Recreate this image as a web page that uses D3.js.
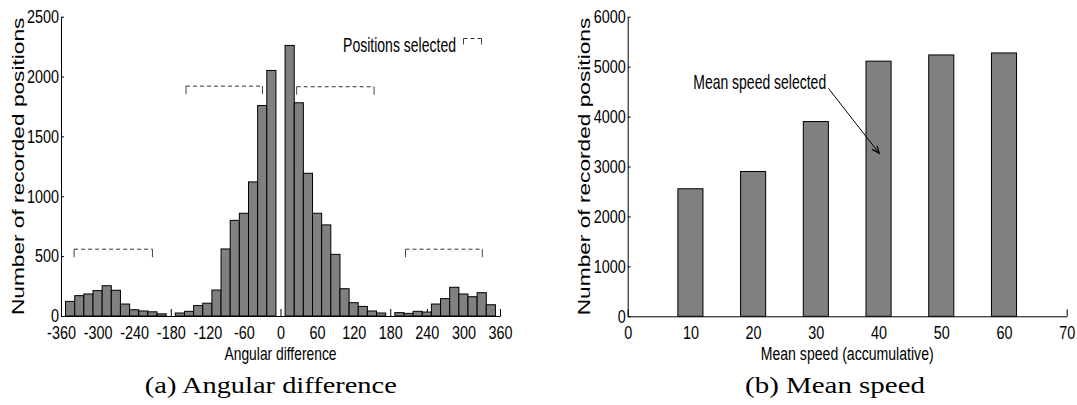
<!DOCTYPE html>
<html><head><meta charset="utf-8">
<script src="https://cdn.jsdelivr.net/npm/d3@7"></script>
<style>
html,body{margin:0;padding:0;background:#fff;}
svg{display:block;}
</style></head><body>
<svg id="chart" width="1077" height="405"></svg>
<script>
// ---------- data ----------
const angleBins = [-345,-330,-315,-300,-285,-270,-255,-240,-225,-210,-195,-180,-165,-150,-135,-120,-105,-90,-75,-60,-45,-30,-15,
  0,
  15,30,45,60,75,90,105,120,135,150,165,180,195,210,225,240,255,270,285,300,315,330,345];
const angleCounts = [122,170,184,212,253,215,100,52,42,35,18,0,25,39,87,107,217,560,799,858,1120,1758,2051,
  0,
  2260,1781,1192,858,761,515,228,111,80,42,25,0,28,22,39,33,100,145,240,184,161,195,94];
const angleTicks = [-360,-300,-240,-180,-120,-60,0,60,120,180,240,300,360];
const angleCountTicks = [0,500,1000,1500,2000,2500];
const selectedFrom = [-338.5,-155,26.5,205];
const selectedTo = [-210,-29.5,153.5,331];
const selectedLevel = [558,1920,1915,558];

const speedBins = [10,20,30,40,50,60];
const speedCounts = [2554,2900,3900,5110,5234,5274];
const speedTicks = [0,10,20,30,40,50,60,70];
const speedCountTicks = [0,1000,2000,3000,4000,5000,6000];
const arrowFrom = [32.0,4566];
const arrowTo = [40.1,3265];
const noteAt = [10.45,4699];

// ---------- font selection ----------
function pickFont(cands, generic) {
  const c = document.createElement('canvas').getContext('2d');
  const probe = 'mmmmmwwwwwiiiiilllAQgy0123456789';
  for (const f of cands) {
    for (const base of ['monospace', 'serif', 'sans-serif']) {
      c.font = `40px ${base}`; const w0 = c.measureText(probe).width;
      c.font = `40px "${f}", ${base}`; const w1 = c.measureText(probe).width;
      if (Math.abs(w1 - w0) > 0.5) return `"${f}", ${generic}`;
    }
  }
  return generic;
}
const SANS = pickFont(['Liberation Sans', 'Arimo', 'Arial', 'Helvetica', 'Nimbus Sans', 'Roboto', 'Noto Sans'], 'sans-serif');
const SERIF = pickFont(['Liberation Serif', 'Tinos', 'Times New Roman', 'Nimbus Roman', 'Noto Serif', 'DejaVu Serif'], 'serif');

// ---------- setup ----------
const svg = d3.select('#chart');
const BAR_FILL = '#808080';
const fmt = d => String(d);   // plain hyphen minus, as in the reference

function label(parent, str, x, y, size, family, anchor, width) {
  const t = parent.append('text').text(str)
    .attr('font-size', size).attr('font-family', family)
    .attr('text-anchor', anchor).attr('fill', '#000');
  const w0 = t.node().getComputedTextLength();
  const s = width ? width / w0 : 1;
  t.attr('transform', `translate(${x},${y}) scale(${s},1)`);
  return t;
}

function styleAxis(g) {
  g.attr('font-family', SANS).attr('font-size', 18);
  g.select('.domain').attr('stroke', '#000').attr('stroke-width', 1);
  g.selectAll('.tick line').attr('stroke', '#000').attr('stroke-width', 1);
  g.selectAll('.tick text').attr('fill', '#000').each(function() {
    const t = d3.select(this);
    const x = +t.attr('x') || 0;
    t.attr('x', 0).attr('transform', `translate(${x},0) scale(0.8,1)`);
  });
}

// ---------- chart (a) ----------
const xA = d3.scaleLinear().domain([-360, 360]).range([61, 500]);
const yA = d3.scaleLinear().domain([0, 2500]).range([316, 16.7]);
const gA = svg.append('g');

gA.append('g').attr('transform', `translate(0,${yA(0)})`)
  .call(d3.axisBottom(xA).tickValues(angleTicks).tickFormat(fmt)
    .tickSizeInner(-7).tickSizeOuter(0).tickPadding(10))
  .call(styleAxis);
gA.append('g').attr('transform', `translate(${xA(-360)},0)`)
  .call(d3.axisLeft(yA).tickValues(angleCountTicks).tickFormat(fmt)
    .tickSizeInner(-3).tickSizeOuter(0).tickPadding(2))
  .call(styleAxis);

const binHalf = 7.5;
gA.append('g').selectAll('rect')
  .data(angleBins.map((c, i) => ({c, v: angleCounts[i]})).filter(d => d.v > 0))
  .join('rect')
  .attr('x', d => xA(d.c - binHalf))
  .attr('width', d => xA(d.c + binHalf) - xA(d.c - binHalf))
  .attr('y', d => yA(d.v))
  .attr('height', d => yA(0) - yA(d.v))
  .attr('fill', BAR_FILL).attr('stroke', '#000').attr('stroke-width', 1);

// selected-range brackets
function bracket(parent, x0, x1, y, tick) {
  parent.append('line').attr('x1', x0).attr('x2', x1).attr('y1', y).attr('y2', y)
    .attr('stroke', '#333').attr('stroke-width', 1).attr('stroke-dasharray', '4,3');
  [x0, x1].forEach(x => parent.append('line')
    .attr('x1', x).attr('x2', x).attr('y1', y).attr('y2', y + tick)
    .attr('stroke', '#444').attr('stroke-width', 1));
}
const gBr = gA.append('g');
selectedFrom.forEach((a, i) => bracket(gBr, xA(a), xA(selectedTo[i]), yA(selectedLevel[i]), 8));

// legend
label(gA, 'Positions selected', 456, 51.7, 21, SANS, 'end', 113);
bracket(gA, 463.5, 481.5, 38.5, 6);

// axis titles
label(gA, 'Angular difference', xA(0), 359.5, 18, SANS, 'middle', 112);
gA.append('text').text('Number of recorded positions')
  .attr('font-family', SANS).attr('font-size', 22.7).attr('text-anchor', 'middle')
  .attr('transform', `translate(23.8,${(yA(0) + yA(2500)) / 2}) scale(0.75,1) rotate(-90)`);
label(gA, '(a) Angular difference', 270.8, 393, 23, SERIF, 'middle', 252);

// ---------- chart (b) ----------
const xB = d3.scaleLinear().domain([0, 70]).range([627.7, 1066.7]);
const yB = d3.scaleLinear().domain([0, 6000]).range([316.3, 16.7]);
const gB = svg.append('g');

gB.append('g').attr('transform', `translate(0,${yB(0)})`)
  .call(d3.axisBottom(xB).tickValues(speedTicks).tickFormat(fmt)
    .tickSizeInner(-7).tickSizeOuter(0).tickPadding(10))
  .call(styleAxis);
gB.append('g').attr('transform', `translate(${xB(0)},0)`)
  .call(d3.axisLeft(yB).tickValues(speedCountTicks).tickFormat(fmt)
    .tickSizeInner(-3).tickSizeOuter(0).tickPadding(2))
  .call(styleAxis);

const barHalf = 2;
gB.append('g').selectAll('rect')
  .data(speedBins.map((c, i) => ({c, v: speedCounts[i]})))
  .join('rect')
  .attr('x', d => xB(d.c - barHalf))
  .attr('width', d => xB(d.c + barHalf) - xB(d.c - barHalf))
  .attr('y', d => yB(d.v))
  .attr('height', d => yB(0) - yB(d.v))
  .attr('fill', BAR_FILL).attr('stroke', '#000').attr('stroke-width', 1);

// annotation
label(gB, 'Mean speed selected', xB(noteAt[0]), yB(noteAt[1]) + 7.5, 20, SANS, 'start', 133);
const ax0 = xB(arrowFrom[0]), ay0 = yB(arrowFrom[1]);
const ax1 = xB(arrowTo[0]), ay1 = yB(arrowTo[1]);
gB.append('line').attr('x1', ax0).attr('y1', ay0).attr('x2', ax1).attr('y2', ay1)
  .attr('stroke', '#000').attr('stroke-width', 1);
const ang = Math.atan2(ay1 - ay0, ax1 - ax0);
const hl = 8, ha = 0.4;
gB.append('path')
  .attr('d', `M${ax1 - hl * Math.cos(ang - ha)},${ay1 - hl * Math.sin(ang - ha)}L${ax1},${ay1}L${ax1 - hl * Math.cos(ang + ha)},${ay1 - hl * Math.sin(ang + ha)}`)
  .attr('fill', 'none').attr('stroke', '#000').attr('stroke-width', 1.2);

label(gB, 'Mean speed (accumulative)', (xB(0) + xB(70)) / 2, 359.5, 18, SANS, 'middle', 173);
gB.append('text').text('Number of recorded positions')
  .attr('font-family', SANS).attr('font-size', 22.7).attr('text-anchor', 'middle')
  .attr('transform', `translate(590.3,${(yB(0) + yB(6000)) / 2}) scale(0.75,1) rotate(-90)`);
label(gB, '(b) Mean speed', 835, 393, 23, SERIF, 'middle', 180);
</script>
</body></html>
